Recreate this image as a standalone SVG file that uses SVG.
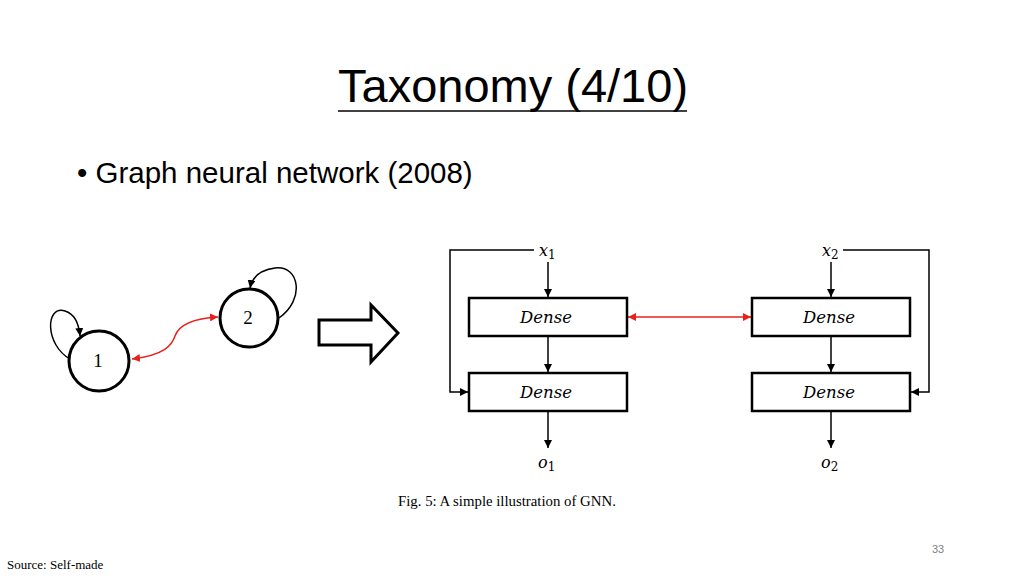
<svg xmlns="http://www.w3.org/2000/svg" width="1024" height="576" viewBox="0 0 1024 576">
<defs>
<marker id="ab" viewBox="0 0 10 10" refX="10" refY="5" markerWidth="8" markerHeight="8" markerUnits="userSpaceOnUse" orient="auto-start-reverse"><path d="M0,0 L10,5 L0,10 z" fill="#000"/></marker>
<marker id="ar" viewBox="0 0 10 10" refX="10" refY="5" markerWidth="8" markerHeight="8" markerUnits="userSpaceOnUse" orient="auto-start-reverse"><path d="M0,0 L10,5 L0,10 z" fill="#e8201c"/></marker>
</defs>
<style>
.title{font-family:"Liberation Sans",Arial,sans-serif;font-size:47px;fill:#000}
.bullet{font-family:"Liberation Sans",Arial,sans-serif;font-size:29.5px;fill:#000}
.node{fill:#fff;stroke:#000;stroke-width:3}
.nlbl{font-family:"Liberation Serif","Times New Roman",serif;font-size:19px;fill:#000;text-anchor:middle}
.box{fill:#fff;stroke:#000;stroke-width:2.5}
.dense{font-family:"DejaVu Serif",serif;font-style:italic;font-size:16.5px;fill:#000;text-anchor:middle}
.math{font-family:"DejaVu Serif",serif;font-style:italic;font-size:16px;fill:#000}
.sub{font-family:"DejaVu Serif",serif;font-style:normal;font-size:12px}
.ln{fill:none;stroke:#000;stroke-width:1.5}
.red{fill:none;stroke:#e8201c;stroke-width:1.5}
.cap{font-family:"Liberation Serif","Times New Roman",serif;font-size:14.8px;fill:#000}
</style>
<rect width="1024" height="576" fill="#fff"/>
<g id="title">
<text class="title" x="338" y="102">Taxonomy (4/10)</text>
<line x1="338" y1="111" x2="687" y2="111" stroke="#000" stroke-width="1.5"/>
</g>
<text class="bullet" x="77" y="183">• Graph neural network (2008)</text>

<g id="connectors">
<path class="ln" d="M279,318 C305,300 300,265 275,268 C260,270 252,278 250,288" marker-end="url(#ab)"/>
<path class="ln" d="M70,359 C45,345 45,305 65,311 C75,314 79,325 80,336" marker-end="url(#ab)"/>
<path class="red" d="M132,359 C165,355 172,345 175,336 C180,322 200,318 218,317" marker-start="url(#ar)" marker-end="url(#ar)"/>

<line class="ln" x1="548" y1="262" x2="548" y2="297" marker-end="url(#ab)"/>
<line class="ln" x1="548" y1="337" x2="548" y2="372" marker-end="url(#ab)"/>
<line class="ln" x1="548" y1="412" x2="548" y2="448" marker-end="url(#ab)"/>
<line class="ln" x1="831" y1="262" x2="831" y2="297" marker-end="url(#ab)"/>
<line class="ln" x1="831" y1="337" x2="831" y2="372" marker-end="url(#ab)"/>
<line class="ln" x1="831" y1="412" x2="831" y2="448" marker-end="url(#ab)"/>
<polyline class="ln" points="534,250 450,250 450,392 468,392" marker-end="url(#ab)"/>
<polyline class="ln" points="843,250 929,250 929,392 911,392" marker-end="url(#ab)"/>
<line class="red" x1="628" y1="317" x2="751" y2="317" marker-start="url(#ar)" marker-end="url(#ar)"/>
</g>

<g id="node1"><circle class="node" cx="99" cy="361" r="30"/><text class="nlbl" x="98" y="367">1</text></g>
<g id="node2"><circle class="node" cx="249" cy="318" r="29"/><text class="nlbl" x="248" y="324">2</text></g>

<g id="bigarrow"><path d="M319,320 L371,320 L371,305 L398,333 L371,362 L371,345 L319,345 z" fill="#fff" stroke="#000" stroke-width="3" stroke-linejoin="miter"/></g>

<g id="x1"><text class="math" x="539" y="256">x<tspan class="sub" dy="3">1</tspan></text></g>
<g id="x2"><text class="math" x="822" y="256">x<tspan class="sub" dy="3">2</tspan></text></g>
<g id="dense11"><rect class="box" x="469" y="298" width="158" height="38"/><text class="dense" x="546" y="323">Dense</text></g>
<g id="dense12"><rect class="box" x="469" y="373" width="158" height="38"/><text class="dense" x="546" y="398">Dense</text></g>
<g id="dense21"><rect class="box" x="752" y="298" width="158" height="38"/><text class="dense" x="829" y="323">Dense</text></g>
<g id="dense22"><rect class="box" x="752" y="373" width="158" height="38"/><text class="dense" x="829" y="398">Dense</text></g>
<g id="o1"><text class="math" x="538" y="468">o<tspan class="sub" dy="3">1</tspan></text></g>
<g id="o2"><text class="math" x="821" y="468">o<tspan class="sub" dy="3">2</tspan></text></g>

<text class="cap" x="398" y="506">Fig. 5: A simple illustration of GNN.</text>
<text x="932" y="553" font-family="Liberation Sans,Arial,sans-serif" font-size="11" fill="#808080">33</text>
<text x="7" y="569" font-family="Liberation Serif,Times New Roman,serif" font-size="13" fill="#000">Source: Self-made</text>
</svg>
